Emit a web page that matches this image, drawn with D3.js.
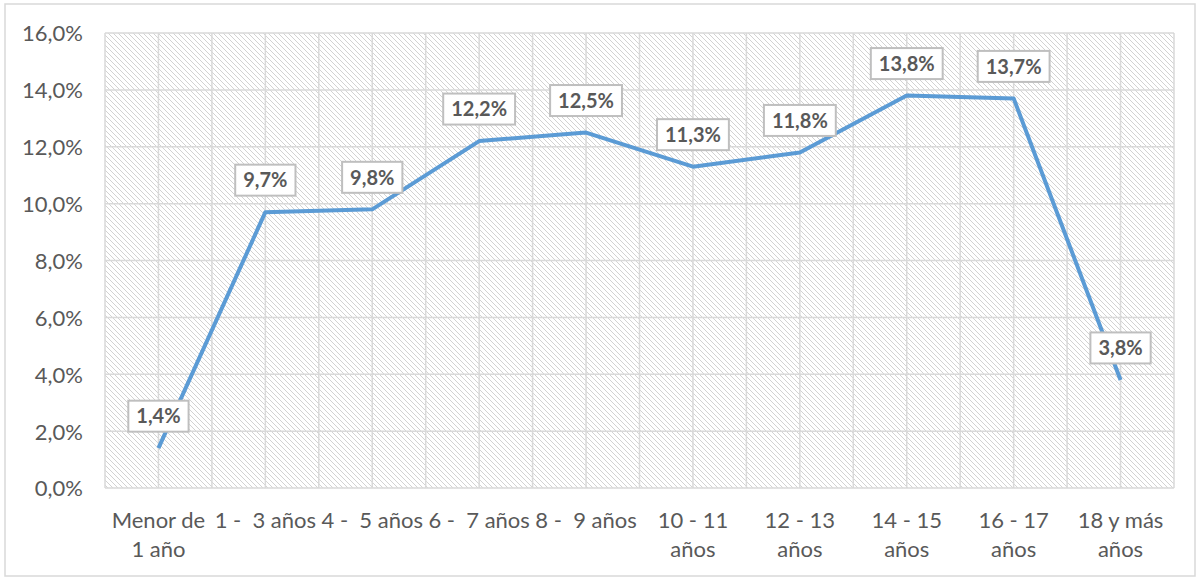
<!DOCTYPE html>
<html>
<head>
<meta charset="utf-8">
<script src="https://cdn.jsdelivr.net/npm/d3@7"></script>
<style>
    body { margin: 0; background: #fff; }
    text { font-family: Lato, "Open Sans", sans-serif; white-space: pre; }
</style>
</head>
<body>
<svg id="chart" width="1198" height="577"></svg>
<script>
// Data
var categories = [
    ["Menor de", "1 año"],
    ["1 -  3 años"],
    ["4 -  5 años"],
    ["6 -  7 años"],
    ["8 -  9 años"],
    ["10 - 11", "años"],
    ["12 - 13", "años"],
    ["14 - 15", "años"],
    ["16 - 17", "años"],
    ["18 y más", "años"]
]
var values = [1.4, 9.7, 9.8, 12.2, 12.5, 11.3, 11.8, 13.8, 13.7, 3.8]
var yTicks = [0, 2, 4, 6, 8, 10, 12, 14, 16]

// Colors
var lineColor = "#5b9bd5"
var gridColor = "#d9d9d9"
var textColor = "#595959"
var hatchColor = "#d2d2d2"

var width = 1198
var height = 577
var margin = {left: 105, right: 24, top: 33, bottom: 89}

var svg = d3.select("#chart")

var fmt = function(v) { return v.toFixed(1).replace(".", ",") + "%" }

// outer border
svg.append("rect")
    .attr("x", 5).attr("y", 4)
    .attr("width", width - 8).attr("height", height - 5)
    .attr("fill", "#fff")
    .attr("stroke", gridColor)
    .attr("stroke-width", 1.5)

// hatch pattern for plot area
var defs = svg.append("defs")
var pat = defs.append("pattern")
    .attr("id", "hatch")
    .attr("patternUnits", "userSpaceOnUse")
    .attr("width", 5).attr("height", 5)
pat.append("rect").attr("width", 5).attr("height", 5).attr("fill", "#fff")
pat.append("path")
    .attr("d", "M-1,-1 L6,6 M-1,4 L1,6 M4,-1 L6,1")
    .attr("stroke", hatchColor)
    .attr("stroke-width", 1)

var x = d3.scaleBand()
    .domain(d3.range(categories.length))
    .range([margin.left, width - margin.right])

var y = d3.scaleLinear()
    .domain([0, 16])
    .range([height - margin.bottom, margin.top])

svg.append("rect")
    .attr("x", x.range()[0])
    .attr("y", y(16))
    .attr("width", x.range()[1] - x.range()[0])
    .attr("height", y(0) - y(16))
    .attr("fill", "url(#hatch)")

// gridlines
var grid = svg.append("g")
grid.selectAll(".hgrid")
    .data(yTicks)
    .enter().append("line")
    .attr("class", "hgrid")
    .attr("x1", x.range()[0]).attr("x2", x.range()[1])
    .attr("y1", d => y(d)).attr("y2", d => y(d))
    .attr("stroke", gridColor)
    .attr("stroke-width", 1.5)

var vlines = []
d3.range(categories.length).forEach(function(i) {
    vlines.push(x(i))
    vlines.push(x(i) + x.bandwidth() / 2)
})
vlines.push(x.range()[1])
grid.selectAll(".vgrid")
    .data(vlines)
    .enter().append("line")
    .attr("class", "vgrid")
    .attr("x1", d => d).attr("x2", d => d)
    .attr("y1", y(16)).attr("y2", y(0))
    .attr("stroke", gridColor)
    .attr("stroke-width", 1.5)

// y axis labels
var yAxis = svg.append("g")
    .attr("transform", "translate(" + (margin.left - 22) + ",0)")
    .call(d3.axisLeft(y).tickValues(yTicks).tickSize(0).tickFormat(fmt))
yAxis.select(".domain").remove()
yAxis.selectAll("text")
    .attr("x", 0)
    .attr("dy", "0.36em")
    .style("font-size", "22px")
    .style("font-family", "Lato, sans-serif")
    .attr("fill", textColor)

// x axis labels
var xAxis = svg.append("g")
xAxis.selectAll(".xlab")
    .data(categories)
    .enter().append("text")
    .attr("class", "xlab")
    .attr("text-anchor", "middle")
    .attr("fill", textColor)
    .style("font-size", "22px")
    .each(function(lines, i) {
        var t = d3.select(this)
        lines.forEach(function(s, j) {
            t.append("tspan")
                .attr("x", x(i) + x.bandwidth() / 2)
                .attr("y", 528 + j * 29)
                .text(s)
        })
    })

// line
var line = d3.line()
    .x((d, i) => x(i) + x.bandwidth() / 2)
    .y(d => y(d))

svg.append("path")
    .datum(values)
    .attr("d", line)
    .attr("fill", "none")
    .attr("stroke", lineColor)
    .attr("stroke-width", 4)
    .attr("stroke-linejoin", "round")

// data labels
var labels = svg.append("g")
    .selectAll("g")
    .data(values)
    .enter().append("g")
    .attr("transform", (d, i) => "translate(" + (x(i) + x.bandwidth() / 2) + "," + (y(d) - 32) + ")")

labels.append("rect")
labels.append("text")
    .attr("text-anchor", "middle")
    .attr("dy", "0.36em")
    .attr("fill", textColor)
    .style("font-size", "20px")
    .style("font-weight", "bold")
    .text(fmt)

labels.each(function() {
    var g = d3.select(this)
    var w = g.select("text").node().getComputedTextLength() + 16
    g.select("rect")
        .attr("x", -w / 2).attr("y", -15.5)
        .attr("width", w).attr("height", 31)
        .attr("fill", "#fff")
        .attr("stroke", "#bfbfbf")
        .attr("stroke-width", 2)
})
</script>
</body>
</html>
